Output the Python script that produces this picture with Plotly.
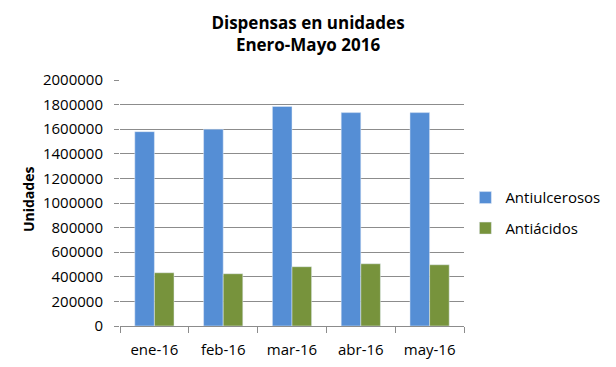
import plotly.graph_objects as go

meses = ["ene-16", "feb-16", "mar-16", "abr-16", "may-16"]
antiulcerosos = [1580000, 1600000, 1785000, 1735000, 1735000]
antiacidos = [433000, 425000, 482000, 506000, 498000]
y_ticks = [0, 200000, 400000, 600000, 800000, 1000000, 1200000, 1400000, 1600000, 1800000, 2000000]

FONT = "Open Sans"

fig = go.Figure()
fig.add_trace(go.Bar(x=meses, y=antiulcerosos, name="Antiulcerosos", marker_color="#558ED5",
                     legendgroup="a"))
fig.add_trace(go.Bar(x=meses, y=antiacidos, name="Antiácidos", marker_color="#77933C",
                     legendgroup="b"))

fig.update_layout(
    width=616, height=367,
    paper_bgcolor="white", plot_bgcolor="white",
    margin=dict(l=120, r=152, t=80, b=41, autoexpand=False),
    bargap=0.43, bargroupgap=0,
    font=dict(family=FONT, size=15, color="#000000"),
    title=dict(text="<b>Dispensas en unidades<br>Enero-Mayo 2016</b>", x=0.5, xanchor="center",
               y=0.92, yanchor="top", font=dict(size=17, family=FONT)),
    legend=dict(x=1.004, y=0.46, xanchor="left", yanchor="middle", font=dict(size=15),
                traceorder="grouped", tracegroupgap=8, itemwidth=30),
    showlegend=True,
    annotations=[dict(text="<b>Unidades</b>", textangle=-90, x=-92 / 344, xref="paper", y=0.516,
                      yref="paper", xanchor="center", yanchor="middle", showarrow=False,
                      font=dict(size=14))],
)
fig.update_yaxes(range=[0, 2000000], tickvals=y_ticks, ticktext=[str(v) for v in y_ticks],
                 showgrid=True, gridcolor="#8C8C8C", gridwidth=1, showline=False, zeroline=False,
                 ticks="outside", ticklen=5, tickcolor="#8C8C8C", automargin=False,
                 ticklabelstandoff=8, tickfont=dict(size=15))
fig.update_xaxes(showline=True, linecolor="#8C8C8C", ticks="outside", ticklen=6, tickcolor="#8C8C8C",
                 tickson="boundaries", showgrid=False, automargin=False, ticklabelstandoff=10,
                 tickfont=dict(size=15))

fig.write_html("out.html", config={"displayModeBar": False},
               post_script="document.body.style.margin='0';")
